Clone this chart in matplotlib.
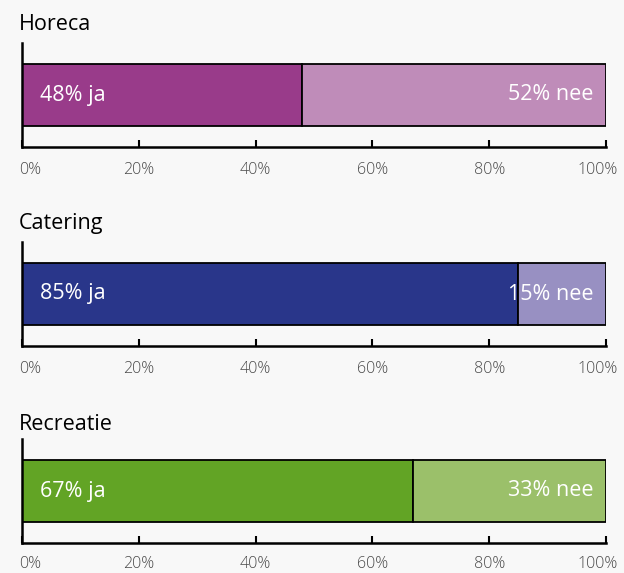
import matplotlib.pyplot as plt
from matplotlib.transforms import ScaledTranslation

plt.rcParams['font.family'] = ['Open Sans', 'DejaVu Sans']

sectors = ['Horeca', 'Catering', 'Recreatie']
ja_values = [48, 85, 67]
nee_values = [52, 15, 33]
ja_colors = ['#993b8a', '#29368a', '#62a425']
nee_colors = ['#bf8cb9', '#9890c2', '#9bc06a']
tick_values = [0, 20, 40, 60, 80, 100]
tick_labels = ['0%', '20%', '40%', '60%', '80%', '100%']

bg = '#f8f8f8'
fig = plt.figure(figsize=(6.24, 5.73), dpi=100, facecolor=bg)

W, H = 624, 573
ax_bottoms = [147, 346, 543]   # pixel y of x-axis line
ax_h = 104
title_y = [25, 223, 424]

for i, name in enumerate(sectors):
    bottom = (H - ax_bottoms[i]) / H
    ax = fig.add_axes([22 / W, bottom, 584 / W, ax_h / H])
    ax.set_facecolor(bg)
    ja, nee = ja_values[i], nee_values[i]
    ax.barh(0, ja, height=0.6, color=ja_colors[i], edgecolor='black', linewidth=1.3)
    ax.barh(0, nee, left=ja, height=0.6, color=nee_colors[i], edgecolor='black', linewidth=1.3)
    ax.set_xlim(0, 100)
    ax.set_ylim(-0.5, 0.5)
    ax.set_yticks([])
    for s in ['top', 'right']:
        ax.spines[s].set_visible(False)
    for s in ['left', 'bottom']:
        ax.spines[s].set_linewidth(1.8)
    ax.set_xticks(tick_values)
    ax.set_xticklabels(tick_labels, fontweight='light')
    ax.tick_params(axis='x', direction='in', length=5, width=1.5,
                   pad=11 if i < 2 else 9,
                   labelsize=11.5, labelcolor='#4a4a4a')
    labels = ax.get_xticklabels()
    labels[0].set_transform(labels[0].get_transform() + ScaledTranslation(8 / 100, 0, fig.dpi_scale_trans))
    labels[-1].set_transform(labels[-1].get_transform() + ScaledTranslation(-8 / 100, 0, fig.dpi_scale_trans))

    ax.text(3, 0, f'{ja}% ja', color='white', fontsize=15.5, va='center', ha='left')
    ax.text(97.8, 0, f'{nee}% nee', color='white', fontsize=15.5, va='center', ha='right')

    fig.text(19 / W, 1 - title_y[i] / H, name, fontsize=15.5, va='center', ha='left', color='black')

fig.savefig('out.png', facecolor=bg)
